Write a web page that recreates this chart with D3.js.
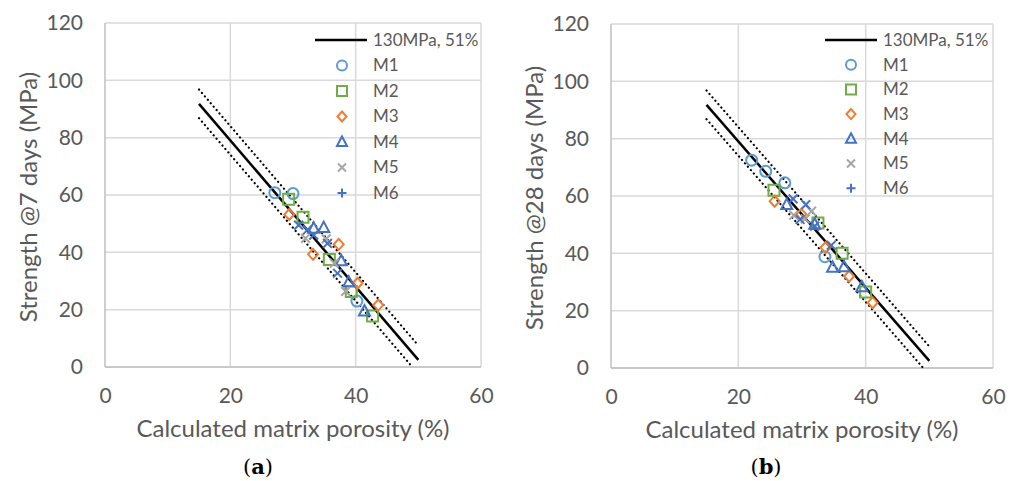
<!DOCTYPE html>
<html>
<head>
<meta charset="utf-8">
<script src="https://cdn.jsdelivr.net/npm/d3@7"></script>
<style>
  html, body { margin: 0; padding: 0; background: #fff; }
  svg { display: block; }
</style>
</head>
<body>
<svg id="chart" width="1019" height="481"></svg>
<script>
// Axis ticks
const xTicks = [0, 20, 40, 60];
const yTicks = [0, 20, 40, 60, 80, 100, 120];

// Model line (130 MPa, 51 %) and its +/- band, as [porosity %, strength MPa]
const fitLine   = [[15, 91.8], [50, 2.5]];
const upperBand = [[15, 96.8], [50, 7.5]];
const lowerBand = [[15, 86.8], [49.04, 0]];

const seriesNames = ["M1", "M2", "M3", "M4", "M5", "M6"];
const fitLabel = "130MPa, 51%";

// 7-day strength vs calculated matrix porosity
const day7M1 = [[27.1, 60.8], [30.0, 60.5], [40.2, 23.0]];
const day7M2 = [[29.3, 58.5], [31.6, 52.2], [35.8, 37.5], [39.3, 26.3], [42.7, 17.8]];
const day7M3 = [[29.4, 53.2], [33.2, 39.3], [37.3, 42.8], [40.3, 29.2], [43.6, 21.6]];
const day7M4 = [[33.3, 48.4], [34.9, 48.6], [37.7, 37.0], [38.9, 29.6], [41.4, 19.5]];
const day7M5 = [[32.0, 44.9], [35.3, 44.7], [36.6, 36.2], [38.4, 26.4]];
const day7M6 = [[30.9, 49.5], [32.3, 47.8], [33.3, 46.0], [35.5, 43.1], [37.1, 32.7]];

// 28-day strength vs calculated matrix porosity
const day28M1 = [[22.1, 72.5], [24.3, 68.6], [27.3, 64.6], [33.6, 38.8]];
const day28M2 = [[25.6, 62.0], [32.5, 50.6], [36.3, 40.0], [40.0, 26.5]];
const day28M3 = [[25.7, 58.2], [29.9, 53.6], [33.7, 42.0], [37.4, 32.0], [41.1, 22.8]];
const day28M4 = [[27.6, 57.0], [32.0, 50.1], [34.8, 35.1], [36.6, 35.3], [39.4, 28.3]];
const day28M5 = [[28.7, 53.3], [31.5, 54.7], [30.5, 52.0]];
const day28M6 = [[28.6, 59.0], [30.6, 57.0], [29.7, 51.8], [32.0, 49.5], [34.6, 42.8]];

const seriesColors = ["#5B9BD5", "#70AD47", "#ED7D31", "#4472C4", "#A5A5A5", "#4472C4"];
const seriesShapes = ["circle", "square", "diamond", "triangle", "x", "x"];
const legendShapes = ["circle", "square", "diamond", "triangle", "x", "plus"];

const svg = d3.select("#chart");
const font = "Lato, 'Open Sans', sans-serif";
const textGrey = "#595959";

function markerPath(shape, s) {
  switch (shape) {
    case "circle":   return d3.symbol(d3.symbolCircle, Math.PI * s * s / 4)();
    case "square":   return `M${-s/2},${-s/2}H${s/2}V${s/2}H${-s/2}Z`;
    case "diamond":  return `M0,${-s*0.5}L${s*0.45},0L0,${s*0.5}L${-s*0.45},0Z`;
    case "triangle": return `M0,${-s*0.55}L${s*0.5},${s*0.4}L${-s*0.5},${s*0.4}Z`;
    case "x":        return `M${-s*0.4},${-s*0.4}L${s*0.4},${s*0.4}M${s*0.4},${-s*0.4}L${-s*0.4},${s*0.4}`;
    case "plus":     return `M${-s*0.45},0H${s*0.45}M0,${-s*0.45}V${s*0.45}`;
  }
}

function drawPanel(cfg) {
  const g = svg.append("g");
  const x = d3.scaleLinear().domain([0, 60]).range(cfg.xRange);
  const y = d3.scaleLinear().domain([0, 120]).range(cfg.yRange);

  // gridlines
  g.append("g").selectAll("line").data(yTicks).join("line")
    .attr("x1", x(0)).attr("x2", x(60))
    .attr("y1", d => y(d)).attr("y2", d => y(d))
    .attr("stroke", "#d9d9d9").attr("stroke-width", 1.5);
  g.append("g").selectAll("line").data(xTicks).join("line")
    .attr("x1", d => x(d)).attr("x2", d => x(d))
    .attr("y1", y(0)).attr("y2", y(120))
    .attr("stroke", d => d === 0 ? "#bfbfbf" : "#d9d9d9").attr("stroke-width", 1.5);
  g.append("line")
    .attr("x1", x(0)).attr("x2", x(60)).attr("y1", y(0)).attr("y2", y(0))
    .attr("stroke", "#bfbfbf").attr("stroke-width", 1.5);

  // axes (labels only)
  const xAxis = g.append("g").attr("transform", `translate(0,${y(0) + 15})`)
    .call(d3.axisBottom(x).tickValues(xTicks).tickSize(0).tickPadding(6));
  const yAxis = g.append("g").attr("transform", `translate(${x(0) - 12},0)`)
    .call(d3.axisLeft(y).tickValues(yTicks).tickSize(0).tickPadding(10));
  [xAxis, yAxis].forEach(a => {
    a.select(".domain").remove();
    a.selectAll("text").attr("fill", textGrey).style("font-family", font).style("font-size", "21px");
  });

  // model line and band
  const line = d3.line().x(d => x(d[0])).y(d => y(d[1]));
  g.append("path").datum(upperBand).attr("d", line)
    .attr("fill", "none").attr("stroke", "#000").attr("stroke-width", 2.2)
    .attr("stroke-linecap", "round").attr("stroke-dasharray", "0.1,4.4");
  g.append("path").datum(lowerBand).attr("d", line)
    .attr("fill", "none").attr("stroke", "#000").attr("stroke-width", 2.2)
    .attr("stroke-linecap", "round").attr("stroke-dasharray", "0.1,4.4");
  g.append("path").datum(fitLine).attr("d", line)
    .attr("fill", "none").attr("stroke", "#000").attr("stroke-width", 2.5);

  // data markers
  cfg.series.forEach((pts, i) => {
    g.append("g").selectAll("path").data(pts).join("path")
      .attr("transform", d => `translate(${x(d[0])},${y(d[1])})`)
      .attr("d", markerPath(seriesShapes[i], 11))
      .attr("fill", "none")
      .attr("stroke", seriesColors[i])
      .attr("stroke-width", 2);
  });

  // legend
  const lg = g.append("g");
  lg.append("line")
    .attr("x1", cfg.legend.lineX[0]).attr("x2", cfg.legend.lineX[1])
    .attr("y1", cfg.legend.y0).attr("y2", cfg.legend.y0)
    .attr("stroke", "#000").attr("stroke-width", 2.5);
  lg.append("text").text(fitLabel)
    .attr("x", cfg.legend.textX).attr("y", cfg.legend.y0).attr("dy", "0.35em")
    .attr("fill", textGrey).style("font-family", font).style("font-size", "17px");
  seriesNames.forEach((name, i) => {
    const yy = cfg.legend.y0 + (i + 1) * cfg.legend.step;
    lg.append("path")
      .attr("transform", `translate(${cfg.legend.markerX},${yy})`)
      .attr("d", markerPath(legendShapes[i], 10))
      .attr("fill", "none").attr("stroke", seriesColors[i]).attr("stroke-width", 2);
    lg.append("text").text(name)
      .attr("x", cfg.legend.textX).attr("y", yy).attr("dy", "0.35em")
      .attr("fill", textGrey).style("font-family", font).style("font-size", "17px");
  });

  // axis titles
  g.append("text").text("Calculated matrix porosity (%)")
    .attr("x", (x(0) + x(60)) / 2).attr("y", y(0) + 70)
    .attr("text-anchor", "middle").attr("fill", textGrey)
    .style("font-family", font).style("font-size", "24px");
  g.append("text").text(cfg.yTitle)
    .attr("transform", `translate(${cfg.yTitleX},${(y(0) + y(120)) / 2 + 2}) rotate(-90)`)
    .attr("text-anchor", "middle").attr("fill", textGrey)
    .style("font-family", font).style("font-size", "24px");

  // panel label
  const pl = g.append("text")
    .attr("x", cfg.labelX).attr("y", 474)
    .attr("text-anchor", "middle").attr("fill", "#000")
    .style("font-family", "'DejaVu Serif', 'Liberation Serif', serif").style("font-size", "21px");
  pl.append("tspan").text("(");
  pl.append("tspan").text(cfg.label).style("font-weight", "bold");
  pl.append("tspan").text(")");
}

drawPanel({
  xRange: [105, 481], yRange: [367, 23],
  series: [day7M1, day7M2, day7M3, day7M4, day7M5, day7M6],
  yTitle: "Strength @7 days (MPa)", yTitleX: 37,
  legend: { lineX: [315, 367], markerX: 342, textX: 373, y0: 40, step: 25.5 },
  label: "a", labelX: 258
});

drawPanel({
  xRange: [611, 993], yRange: [368, 24],
  series: [day28M1, day28M2, day28M3, day28M4, day28M5, day28M6],
  yTitle: "Strength @28 days (MPa)", yTitleX: 543,
  legend: { lineX: [825, 877], markerX: 851, textX: 883, y0: 40, step: 24.7 },
  label: "b", labelX: 766
});
</script>
</body>
</html>
